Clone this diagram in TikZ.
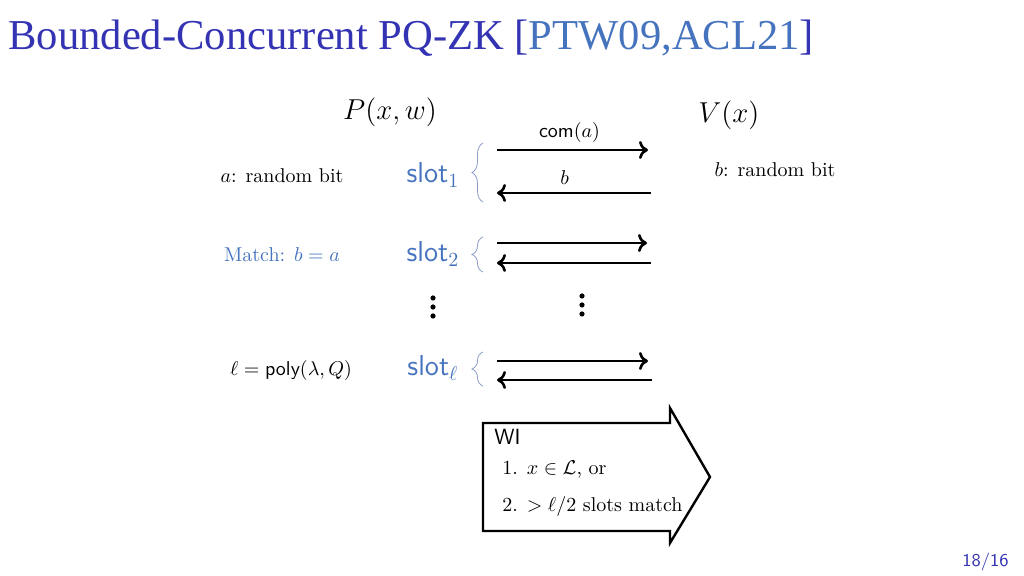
\documentclass[tikz,border=0pt]{standalone}
\usepackage{fontspec}
\usepackage{amssymb}
\newfontfamily\titlefont{Liberation Serif}
\usetikzlibrary{decorations.pathreplacing, arrows.meta}
\definecolor{titleblue}{RGB}{51,51,179}
\definecolor{citeblue}{RGB}{70,115,190}
\definecolor{bracegray}{RGB}{140,155,200}

\begin{document}
\begin{tikzpicture}[
        x=0.5pt, y=-0.5pt,
        msg/.style={-{To[length=4.5pt, width=9pt]}, line width=1.3pt},
        party/.style={font=\Large},
        slot/.style={font=\Large\sffamily, text=citeblue},
        slotbrace/.style={decorate, decoration={brace, amplitude=5.5pt}, draw=bracegray, line width=0.4pt},
        item/.style={anchor=base west, inner sep=0pt}
    ]
        \useasboundingbox (0,0) rectangle (1024,576);

        % Title
        \node[anchor=base west, inner sep=0pt, text=titleblue, font=\titlefont\fontsize{21.3}{25}\selectfont] (title) at (8,50)
            {Bounded-Concurrent PQ-ZK [{\color{citeblue}PTW09,ACL21}]};

        % Parties
        \node[party] (prover) at (390,112) {$P(x,w)$};
        \node[party] (verifier) at (729,115) {$V(x)$};
        \node (abit) at (282,176) {$a$: random bit};
        \node (bbit) at (775,170) {$b$: random bit};
        \node[text=citeblue] (match) at (282,255) {Match: $b=a$};
        \node (len) at (291,371) {$\ell=\textsf{poly}(\lambda,Q)$};

        % Slots
        \node[slot] (slot1) at (433,175) {slot$_1$};
        \node[slot] (slot2) at (433,254) {slot$_2$};
        \node[slot] (slotl) at (433,368) {slot$_\ell$};

        \coordinate (b1t) at (483,143); \coordinate (b1b) at (483,202);
        \coordinate (b2t) at (483,237); \coordinate (b2b) at (483,272);
        \coordinate (blt) at (483,352); \coordinate (blb) at (483,386);
        \draw[slotbrace] (b1b) -- (b1t);
        \draw[slotbrace] (b2b) -- (b2t);
        \draw[slotbrace] (blb) -- (blt);

        % Messages
        \coordinate (p1) at (497,150); \coordinate (v1) at (648,150);
        \coordinate (p1b) at (497,193); \coordinate (v1b) at (651,193);
        \coordinate (p2) at (497,243); \coordinate (v2) at (647,243);
        \coordinate (p2b) at (497,263); \coordinate (v2b) at (651,263);
        \coordinate (pl) at (497,361); \coordinate (vl) at (648,361);
        \coordinate (plb) at (497,380); \coordinate (vlb) at (652,380);

        \draw[msg] (p1) -- (v1) node[pos=0.48, above=0pt] (coma) {\textsf{com}$(a)$};
        \draw[msg] (v1b) -- (p1b) node[pos=0.56, above=0.5pt] (bmsg) {$b$};
        \draw[msg] (p2) -- (v2);
        \draw[msg] (v2b) -- (p2b);
        \draw[msg] (pl) -- (vl);
        \draw[msg] (vlb) -- (plb);

        % Dots
        \foreach \k in {0,1,2} {
            \fill (433,298+9*\k) circle (1.3pt);
            \fill (582,296+9*\k) circle (1.3pt);
        }

        % WI statement
        \draw[line width=1.2pt] (483,423) -- (670,423) -- (670,408) -- (710,477)
            -- (670,543) -- (670,531) -- (483,531) -- cycle;
        \node[item, font=\fontsize{11}{13}\sffamily] (wi) at (494,445) {WI};
        \node[item] (stmt1) at (502,475) {1. $x\in\mathcal{L}$, or};
        \node[item] (stmt2) at (502,512) {2. $>\ell/2$ slots match};

        % Page number
        \node[item, text=titleblue, font=\fontsize{9}{11}\sffamily] (page) at (962,567) {18/16};
    \end{tikzpicture}
\end{document}
